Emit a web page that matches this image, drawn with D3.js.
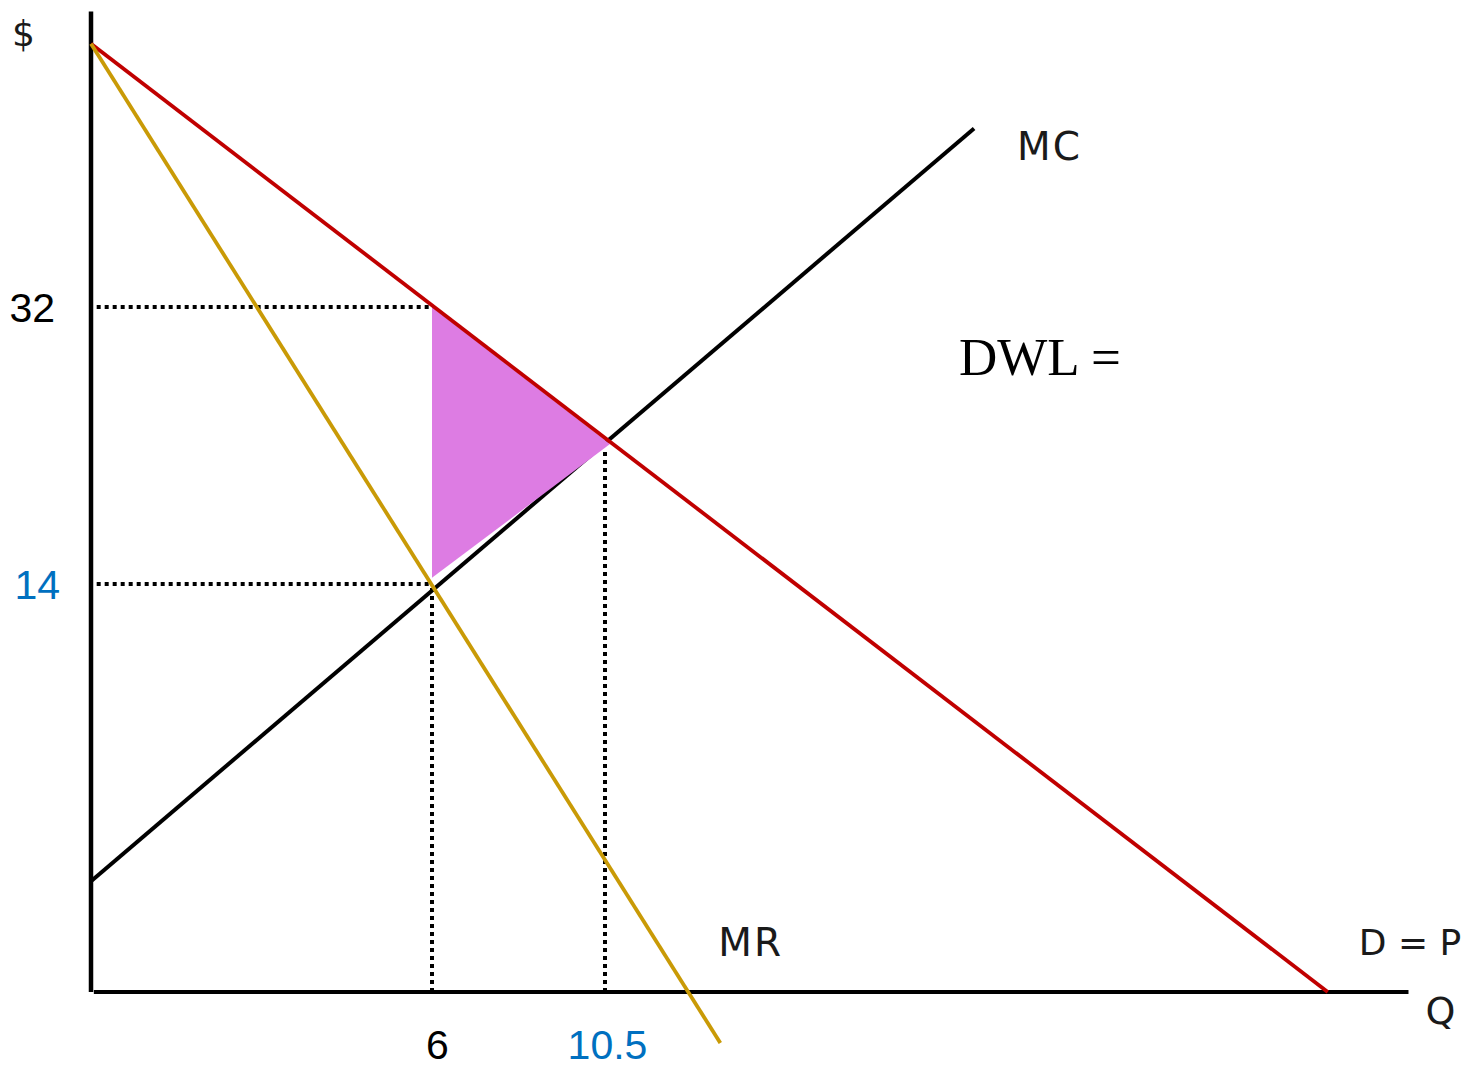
<!DOCTYPE html>
<html>
<head>
<meta charset="utf-8">
<script src="https://cdn.jsdelivr.net/npm/d3@7"></script>
<style>
  body { margin: 0; background: #fff; }
  #chart svg { display: block; }
  .curve-label { font-family: "DejaVu Sans", sans-serif; font-size: 36px; fill: #1a1a1a; }
  .spaced { letter-spacing: 2px; font-size: 39px; }
  .tick-label { font-family: "Liberation Sans", Arial, sans-serif; font-size: 41px; }
</style>
</head>
<body>
<div id="chart"></div>
<script>
// ---- data (Q = quantity, P = price; diagram is not drawn to scale) ----
const qTicks = [6, 10.5];
const qTickLabels = ["6", "10.5"];
const qTickColors = ["#000000", "#0070c0"];

const pTicks = [32, 14];
const pTickLabels = ["32", "14"];
const pTickColors = ["#000000", "#0070c0"];

const demand = [{ q: 0, p: 49.1 }, { q: 29.3, p: 0 }];
const mr     = [{ q: 0, p: 49.1 }, { q: 13.5, p: -1.75 }];
const mc     = [{ q: 0, p: 3.8 }, { q: 20.1, p: 43.6 }];
const dwl    = [{ q: 6, p: 32 }, { q: 10.63, p: 23.1 }, { q: 6, p: 14.4 }];

const axisQMax = 31.4;
const axisPMax = 51.2;

// dotted guides: [from, to]
const guides = [
  [{ q: 0.1, p: 32 }, { q: 6, p: 32 }],
  [{ q: 0.1, p: 14 }, { q: 6, p: 14 }],
  [{ q: 6, p: 0 }, { q: 6, p: 14 }],
  [{ q: 10.5, p: 0 }, { q: 10.5, p: 22.8 }]
];

// ---- setup ----
const W = 1464, H = 1067;
const svg = d3.select("#chart").append("svg").attr("width", W).attr("height", H);

// piecewise scales: the sketch spaces its marked values unevenly
const x = d3.scaleLinear().domain([0, 6, 10.5]).range([91, 432, 605]);
const y = d3.scaleLinear().domain([0, 14, 32]).range([992, 584, 307]);

const line = d3.line().x(d => x(d.q)).y(d => y(d.p));

// axes lines
svg.append("path")
  .attr("d", line([{ q: 0, p: axisPMax }, { q: 0, p: 0 }]))
  .attr("stroke", "#000").attr("stroke-width", 4.5).attr("fill", "none");
svg.append("path")
  .attr("d", line([{ q: 0.05, p: 0 }, { q: axisQMax, p: 0 }]))
  .attr("stroke", "#000").attr("stroke-width", 4).attr("fill", "none");

// dotted guides
svg.append("g").selectAll("path")
  .data(guides)
  .join("path")
  .attr("d", d => line(d))
  .attr("stroke", "#000")
  .attr("stroke-width", 4)
  .attr("stroke-dasharray", "4 4")
  .attr("fill", "none");

// MC
svg.append("path").datum(mc)
  .attr("d", line)
  .attr("stroke", "#000").attr("stroke-width", 4).attr("fill", "none");

// DWL triangle
svg.append("path").datum(dwl)
  .attr("d", d => line(d) + "Z")
  .attr("fill", "#dd7ce3").attr("stroke", "none");

// Demand
svg.append("path").datum(demand)
  .attr("d", line)
  .attr("stroke", "#c00000").attr("stroke-width", 3.8).attr("fill", "none");

// MR
svg.append("path").datum(mr)
  .attr("d", line)
  .attr("stroke", "#c99a06").attr("stroke-width", 3.8).attr("fill", "none");

// tick labels via d3 axes
const xAxis = svg.append("g")
  .attr("transform", `translate(0,${y(0)})`)
  .call(d3.axisBottom(x).tickValues(qTicks).tickSize(0).tickPadding(38)
    .tickFormat((d, i) => qTickLabels[i]));
xAxis.select(".domain").remove();
xAxis.attr("font-size", null).attr("font-family", null);
xAxis.selectAll("text")
  .attr("class", "tick-label")
  .attr("dx", (d, i) => i === 0 ? 5 : 2)
  .style("fill", (d, i) => qTickColors[i]);

const yAxis = svg.append("g")
  .attr("transform", `translate(${x(0) - 33},0)`)
  .call(d3.axisLeft(y).tickValues(pTicks).tickSize(0).tickPadding(0)
    .tickFormat((d, i) => pTickLabels[i]));
yAxis.select(".domain").remove();
yAxis.attr("font-size", null).attr("font-family", null);
yAxis.selectAll("text")
  .attr("class", "tick-label")
  .attr("dy", "0.35em")
  .attr("dx", (d, i) => i === 0 ? -3 : 2)
  .style("fill", (d, i) => pTickColors[i]);

// curve labels, placed off each curve's end
const mcEnd = mc[mc.length - 1], mrEnd = mr[mr.length - 1], dEnd = demand[demand.length - 1];
svg.append("text").attr("class", "curve-label spaced")
  .attr("x", x(mcEnd.q) + 43).attr("y", y(mcEnd.p) + 32).text("MC");
svg.append("text").attr("class", "curve-label spaced")
  .attr("x", x(mrEnd.q) - 2).attr("y", y(mrEnd.p) - 87).text("MR");
svg.append("text").attr("class", "curve-label")
  .attr("x", x(dEnd.q) + 31).attr("y", y(dEnd.p) - 37).text("D = P");
svg.append("text").attr("class", "curve-label")
  .style("font-size", "38px")
  .attr("x", x(axisQMax) + 17).attr("y", y(0) + 32).text("Q");
svg.append("text").attr("class", "curve-label")
  .attr("x", x(0) - 79).attr("y", y(axisPMax) + 34).text("$");

// DWL annotation
svg.append("text")
  .attr("x", 959).attr("y", 375)
  .style("font-family", "'Liberation Serif', 'Times New Roman', serif")
  .style("font-size", "53px")
  .style("fill", "#000")
  .text("DWL =");
</script>
</body>
</html>
